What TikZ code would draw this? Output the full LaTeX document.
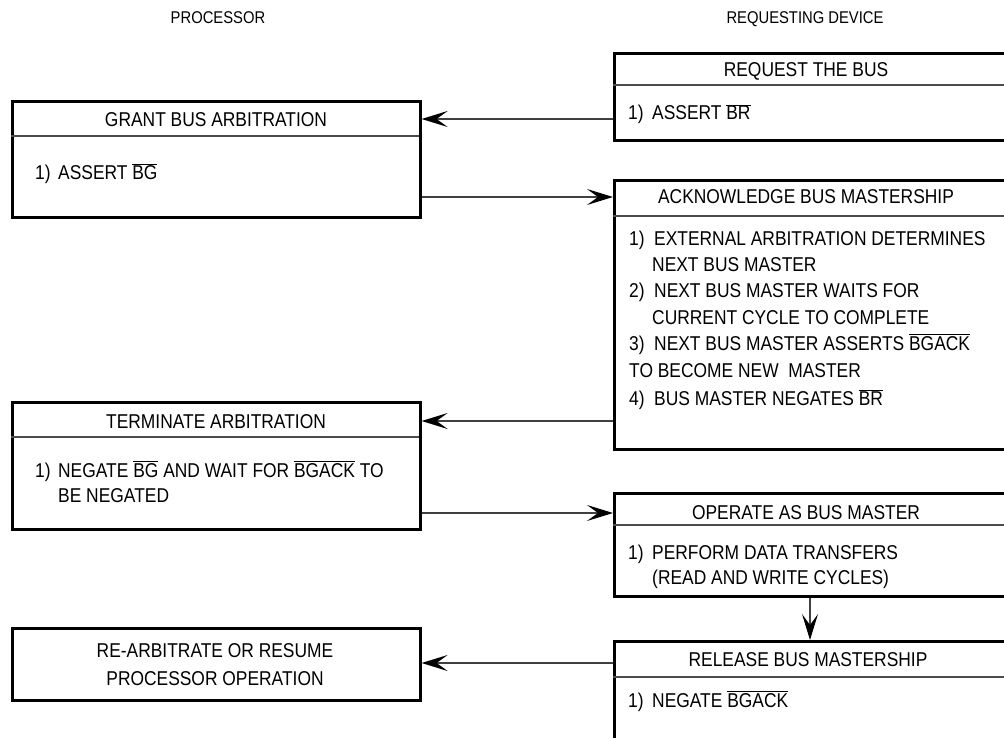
\documentclass[tikz,border=0pt]{standalone}
\usepackage{fontspec}
\setmainfont[FakeStretch=0.87]{Liberation Sans}
\usetikzlibrary{arrows.meta}
\newcommand{\ovl}[1]{$\overline{\hbox{#1}}$}
\begin{document}
\begin{tikzpicture}[x=1pt,y=-1pt,
  every node/.style={inner sep=0pt, font=\fontsize{20}{26.5}\selectfont},
  box/.style={draw=black, line width=2.6pt, anchor=north west, fill=none},
  div/.style={draw=black!70, line width=1.5pt},
  title/.style={anchor=base},
  body/.style={anchor=base west},
  conn/.style={draw=black!75, line width=1.6pt, -{Stealth[length=26pt,width=16pt,inset=11pt,black]}},
  lbl/.style={anchor=base, font=\fontsize{17}{20}\selectfont}
]
\useasboundingbox (0,0) rectangle (1004,738);
\clip (0,0) rectangle (1004,738);

% column labels
\node[lbl] (proc) at (218,24) {PROCESSOR};
\node[lbl] (reqdev) at (805,24) {REQUESTING DEVICE};

% left boxes
\node[box, minimum width=408pt, minimum height=116pt] (grant) at (11,100) {};
\draw[div] (11,136) -- (419,136);
\node[title] (grantT) at (216,127) {GRANT BUS ARBITRATION};
\node[body] (grantB) at (35,180) {\makebox[23pt][l]{1)}ASSERT \ovl{BG}};

\node[box, minimum width=408pt, minimum height=127pt] (term) at (11,401) {};
\draw[div] (11,437) -- (419,437);
\node[title] (termT) at (216,428) {TERMINATE ARBITRATION};
\node[body] (termB1) at (35,477) {\makebox[23pt][l]{1)}NEGATE \ovl{BG} AND WAIT FOR \ovl{BGACK} TO};
\node[body] (termB2) at (58,502) {BE NEGATED};

\node[box, minimum width=408pt, minimum height=72pt] (rearb) at (11,627) {};
\node[title] (rearbT1) at (215,657) {RE-ARBITRATE OR RESUME};
\node[title] (rearbT2) at (215,685) {PROCESSOR OPERATION};

% right boxes
\node[box, minimum width=400pt, minimum height=87pt] (request) at (613,52) {};
\draw[div] (613,85) -- (1010,85);
\node[title] (requestT) at (806,77) {REQUEST THE BUS};
\node[body] (requestB) at (628,120) {\makebox[24pt][l]{1)}ASSERT \ovl{BR}};

\node[box, minimum width=400pt, minimum height=269pt] (ack) at (613,179) {};
\draw[div] (613,216) -- (1010,216);
\node[title] (ackT) at (806,204) {ACKNOWLEDGE BUS MASTERSHIP};
\node[body] (ack1) at (629,245) {\makebox[25pt][l]{1)}EXTERNAL ARBITRATION DETERMINES};
\node[body] (ack2) at (652,271) {NEXT BUS MASTER};
\node[body] (ack3) at (629,297) {\makebox[25pt][l]{2)}NEXT BUS MASTER WAITS FOR};
\node[body] (ack4) at (652,324) {CURRENT CYCLE TO COMPLETE};
\node[body] (ack5) at (629,350) {\makebox[25pt][l]{3)}NEXT BUS MASTER ASSERTS \ovl{BGACK}};
\node[body] (ack6) at (629,377) {TO BECOME NEW\ \ MASTER};
\node[body] (ack7) at (629,405) {\makebox[25pt][l]{4)}BUS MASTER NEGATES \ovl{BR}};

\node[box, minimum width=400pt, minimum height=103pt] (operate) at (613,492) {};
\draw[div] (613,525) -- (1010,525);
\node[title] (operateT) at (806,519) {OPERATE AS BUS MASTER};
\node[body] (operate1) at (628,559) {\makebox[24pt][l]{1)}PERFORM DATA TRANSFERS};
\node[body] (operate2) at (652,584) {(READ AND WRITE CYCLES)};

\node[box, minimum width=400pt, minimum height=130pt] (release) at (613,640) {};
\draw[div] (613,677) -- (1010,677);
\node[title] (releaseT) at (808,666) {RELEASE BUS MASTERSHIP};
\node[body] (release1) at (628,707) {\makebox[24pt][l]{1)}NEGATE \ovl{BGACK}};

% connectors
\draw[conn] ([yshift=-67pt]request.north west) -- ([yshift=-19pt]grant.north east);
\draw[conn] ([yshift=-97pt]grant.north east) -- ([yshift=-18pt]ack.north west);
\draw[conn] ([yshift=-242pt]ack.north west) -- ([yshift=-20pt]term.north east);
\draw[conn] ([yshift=-112pt]term.north east) -- ([yshift=-21pt]operate.north west);
\draw[conn, line width=1.3pt] ([xshift=197pt]operate.south west) -- ([xshift=197pt]release.north west);
\draw[conn] ([yshift=-23pt]release.north west) -- ([yshift=-36pt]rearb.north east);
\end{tikzpicture}
\end{document}
